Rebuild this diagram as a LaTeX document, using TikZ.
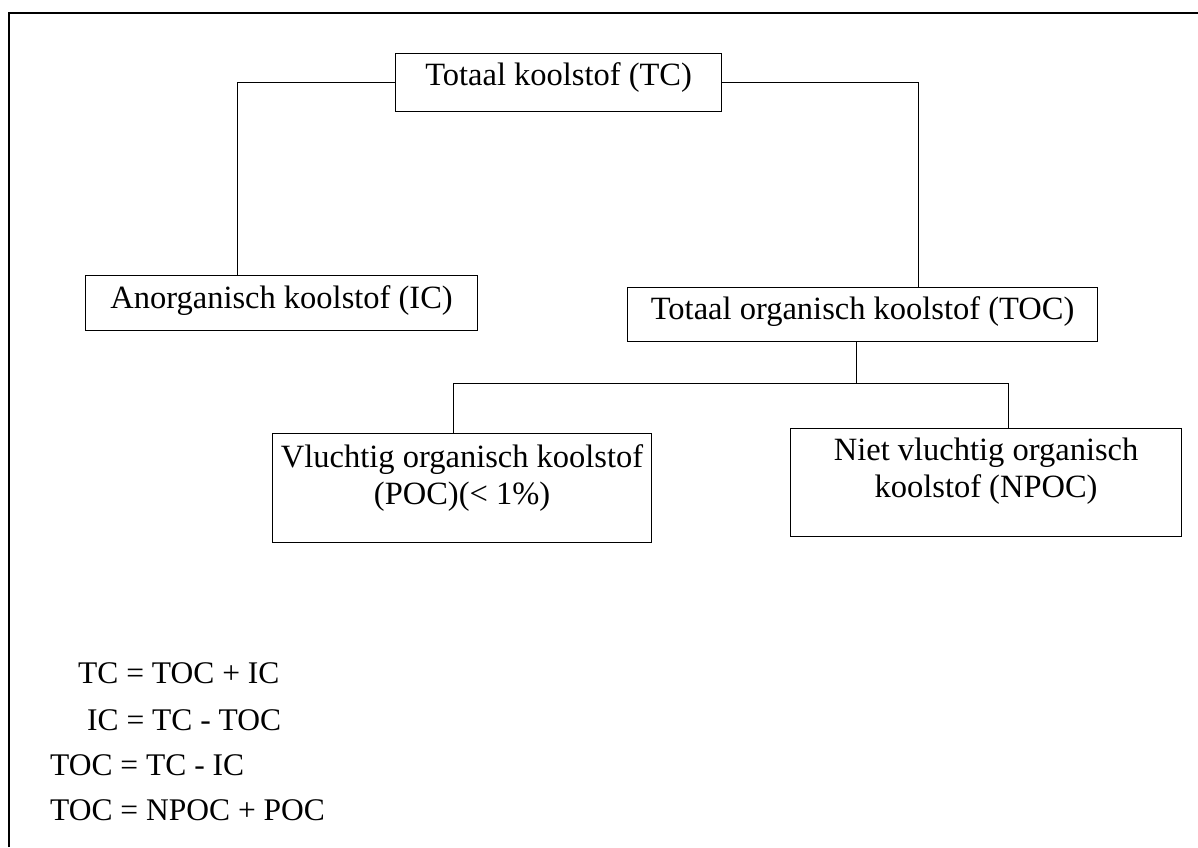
\documentclass[tikz,border=0pt]{standalone}
\usepackage{fontspec}
\setmainfont{Liberation Serif}
\usetikzlibrary{calc}
\tikzset{
  cbox/.style={draw, line width=1.2pt, inner sep=0pt, anchor=north west, align=center,
    font=\fontsize{32.5}{37}\selectfont},
  eqtext/.style={anchor=base west, inner sep=0pt, font=\fontsize{31.5}{37}\selectfont},
  link/.style={line width=1.2pt},
  frame/.style={line width=2pt}
}
\begin{document}
\begin{tikzpicture}[x=1pt,y=-1pt]
\useasboundingbox (0,0) rectangle (1198,847);
% outer frame
\coordinate (fbl) at (9,847);
\coordinate (ftl) at (9,13);
\coordinate (ftr) at (1198,13);
\draw[frame] (fbl) -- (ftl) -- (ftr);

% boxes
\node[cbox, minimum width=326pt, text height=32pt, text depth=26pt] (tc) at (395,53) {Totaal koolstof (TC)};
\node[cbox, minimum width=392pt, text height=33pt, text depth=22pt] (ic) at (85,275) {Anorganisch koolstof (IC)};
\node[cbox, minimum width=470pt, text height=32pt, text depth=22pt] (toc) at (627,287) {Totaal organisch koolstof (TOC)};
\node[cbox, minimum width=379pt, text height=34pt, text depth=75pt] (poc) at (272,433)
  {\begin{tabular}[t]{@{}c@{}}Vluchtig organisch koolstof\\(POC)(< 1\%)\end{tabular}};
\node[cbox, minimum width=391pt, text height=32pt, text depth=76pt] (npoc) at (790,428)
  {\begin{tabular}[t]{@{}c@{}}Niet vluchtig organisch\\koolstof (NPOC)\end{tabular}};

% connectors
\draw[link] (tc.west) -| ($(ic.north west)!0.388!(ic.north east)$);
\draw[link] (tc.east) -| ($(toc.north west)!0.619!(toc.north east)$);
\coordinate (tocb) at ($(toc.south west)!0.487!(toc.south east)$);
\coordinate (split) at ($(tocb)+(0,41)$);
\draw[link] (tocb) -- (split);
\draw[link] (split) -| ($(poc.north west)!0.478!(poc.north east)$);
\draw[link] (split) -| ($(npoc.north west)!0.558!(npoc.north east)$);

% equations
\node[eqtext] (eq1) at (78,683) {TC = TOC + IC};
\node[eqtext] (eq2) at (87,730) {IC = TC - TOC};
\node[eqtext] (eq3) at (50,775) {TOC = TC - IC};
\node[eqtext] (eq4) at (50,820) {TOC = NPOC + POC};
\end{tikzpicture}
\end{document}
